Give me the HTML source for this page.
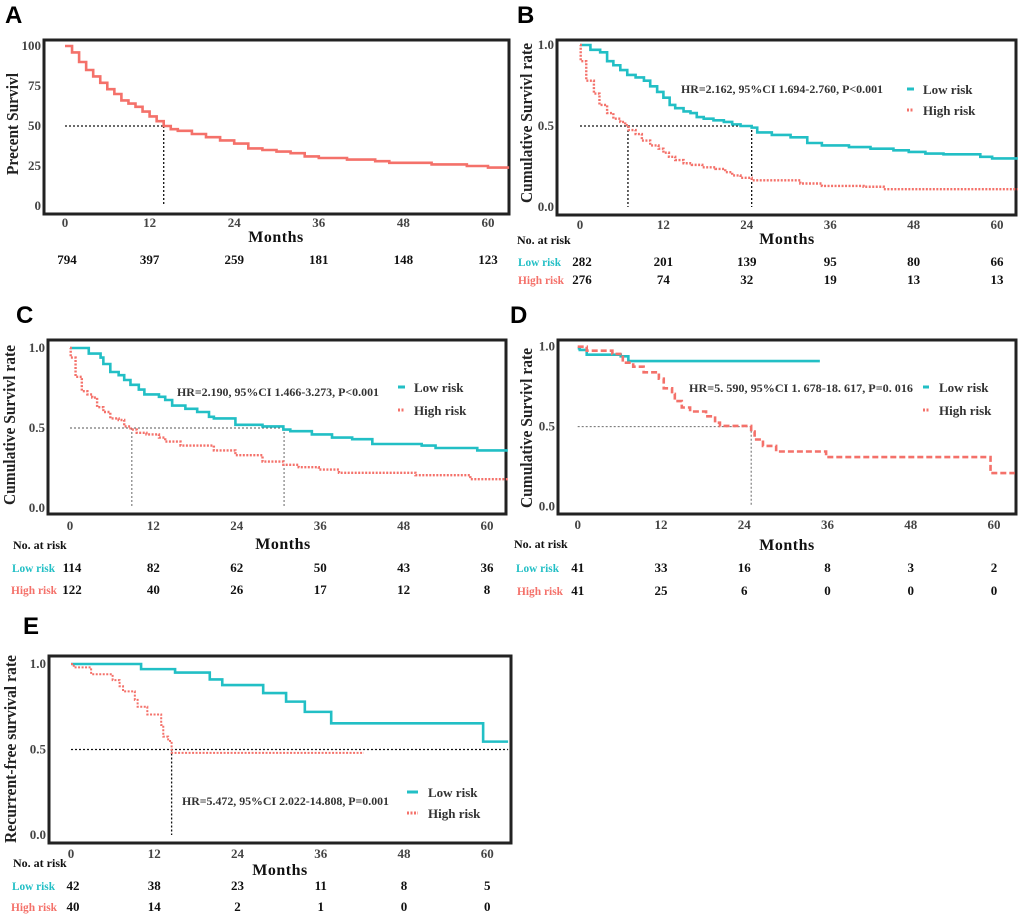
<!DOCTYPE html>
<html><head><meta charset="utf-8"><style>
html,body{margin:0;padding:0;background:#fff;}
svg{display:block;font-family:"Liberation Serif",serif;}
.pl{font-family:"Liberation Sans",sans-serif;font-weight:bold;font-size:24px;}
</style></head><body>
<svg id="fig" width="1020" height="916" viewBox="0 0 1020 916"></svg>
<script>
const months=[0,12,24,36,48,60];
// Panel A
const aT=[0,1,2,3,4,5,6,7,8,9,10,11,12,13,14,15,16,18,20,22,24,26,28,30,32,34,36,40,44,46,52,57,60];
const aV=[100,96,90,85,81,77,73,70,66,64,62,59,56,53,50,48,47,45,43,41,39,36,35,34,33,31,30,29,28,27,26,25,24];
const aRisk=[794,397,259,181,148,123];
// Panel B
const bLowT=[0,1.5,2.9,3.9,4.8,5.8,6.8,8,9.2,10.1,11.1,12,12.9,13.7,14.9,15.9,16.8,17.8,19.2,20.7,21.9,23.1,24.7,25.5,27.6,30.3,32.7,34.8,38.7,41.8,45.1,47.3,49.7,52.3,57.6,59.3];
const bLowV=[1,0.97,0.955,0.9,0.875,0.845,0.815,0.8,0.78,0.745,0.71,0.675,0.63,0.61,0.59,0.58,0.555,0.545,0.535,0.525,0.51,0.5,0.49,0.46,0.445,0.43,0.395,0.38,0.37,0.36,0.35,0.34,0.33,0.325,0.31,0.3];
const bHighT=[0,0.1,0.9,2,2.8,3.9,4.8,5.8,6.5,7,8,8.9,10.1,11.3,12,12.8,13.7,14.9,16.1,17.6,19.5,20.9,21.9,23.1,24.7,31.7,34.8,40.8,43.7];
const bHighV=[1,0.9,0.78,0.7,0.63,0.58,0.545,0.525,0.505,0.475,0.45,0.41,0.38,0.36,0.335,0.31,0.29,0.27,0.26,0.245,0.235,0.215,0.195,0.18,0.165,0.145,0.13,0.125,0.11];
const bLowRisk=[282,201,139,95,80,66];
const bHighRisk=[276,74,32,19,13,13];
// Panel C
const cLowT=[0,2.7,4.4,4.8,5.8,7,7.8,8.7,9.9,10.7,12.8,13.7,14.7,16.6,18.3,20,20.7,23.8,27.7,30.7,31.7,34.8,37.7,40.6,43.5,50.6,52.6,58.6];
const cLowV=[1,0.965,0.94,0.9,0.85,0.83,0.8,0.77,0.74,0.71,0.695,0.675,0.64,0.62,0.6,0.57,0.56,0.52,0.51,0.49,0.48,0.46,0.44,0.43,0.40,0.39,0.375,0.36];
const cHighT=[0,0.1,0.8,1.7,2.5,3.2,3.9,4.8,5.8,7,7.8,8.7,9.6,11,12.8,13.7,15.9,20.7,23.8,27.7,30.7,32.9,35.8,38.7,49.7,57.6];
const cHighV=[1,0.94,0.82,0.73,0.71,0.69,0.63,0.6,0.56,0.55,0.51,0.49,0.47,0.46,0.44,0.415,0.39,0.36,0.33,0.29,0.27,0.255,0.24,0.22,0.205,0.18];
const cLowRisk=[114,82,62,50,43,36];
const cHighRisk=[122,40,26,17,12,8];
// Panel D
const dLowT=[0,0.3,1.3,6.2,7.3];
const dLowV=[0.99,0.98,0.95,0.94,0.91];
const dHighT=[0,1.3,5,6.5,8,9.5,11.7,12.4,13.6,14,15,16.2,18.5,19.8,20.5,25,25.5,26.7,28.6,35.8,59.5];
const dHighV=[1,0.975,0.955,0.9,0.875,0.84,0.8,0.74,0.705,0.66,0.62,0.595,0.565,0.525,0.505,0.47,0.42,0.38,0.345,0.31,0.21];
const dLowRisk=[41,33,16,8,3,2];
const dHighRisk=[41,25,6,0,0,0];
// Panel E
const eLowT=[0,10.1,15,20,21.8,27.7,31,33.7,37.5,59.4];
const eLowV=[1,0.97,0.95,0.91,0.877,0.83,0.78,0.72,0.653,0.546];
const eHighT=[0,0.4,2.9,6,7,7.5,9.2,9.6,11,13,13.3,14,14.5];
const eHighV=[1,0.98,0.94,0.906,0.87,0.84,0.79,0.75,0.705,0.643,0.575,0.55,0.48];
const eLowRisk=[42,38,23,11,8,5];
const eHighRisk=[40,14,2,1,0,0];

const TEAL="#22bfc5", RED="#f4716a";
const svg=document.getElementById('fig');
const NS="http://www.w3.org/2000/svg";
function mk(tag,attrs,parent,text){const e=document.createElementNS(NS,tag);for(const k in attrs)e.setAttribute(k,attrs[k]);if(text!==undefined)e.textContent=text;(parent||svg).appendChild(e);return e;}

function panel(c){
  const g=mk('g',{});
  
  
  const X=t=>c.x0+(c.x60-c.x0)*t/60;
  const Y=v=>c.y0-(c.y0-c.y1)*(v-c.vmin)/(c.vmax-c.vmin);
  const lab=mk('text',{x:c.lx,y:c.ly,class:'pl'},g,c.id);
  
  
  const box=mk('rect',{x:c.bx,y:c.by,width:c.bw,height:c.bh,fill:'none',stroke:'#222','stroke-width':3},g);
  
  
  c.yt.forEach((v,i)=>{
    const t=mk('text',{x:c.bx-3,y:Y(v)+4,'text-anchor':'end','font-size':13,fill:'#444','font-weight':'bold'},g,c.ytl[i]);
    
    
  });
  months.forEach(m=>{
    const t=mk('text',{x:X(m),y:c.xty,'text-anchor':'middle','font-size':13,fill:'#444','font-weight':'bold'},g,String(m));
    
    
  });
  const xt=mk('text',{x:c.mx,y:c.my,'text-anchor':'middle','font-size':16,'font-weight':'bold',fill:'#111','letter-spacing':'0.5'},g,'Months');
  
  
  const yt=mk('text',{x:0,y:0,'text-anchor':'middle','font-size':17,'font-weight':'bold',fill:'#222',textLength:c.ytlen,lengthAdjust:'spacingAndGlyphs',transform:`translate(${c.ytx},${c.yty}) rotate(-90)`},g,c.ytitle);
  
  
  c.med.forEach(md=>{
    const l1=mk('path',{d:`M${X(0)},${Y(0.5*(c.vmax))}H${X(md.h)}`,stroke:md.col||'#111','stroke-width':md.w||1.3,'stroke-dasharray':'2,2',fill:'none'},g);
    
    
    if(md.v!==undefined){
      const l2=mk('path',{d:`M${X(md.v)},${Y(0.5*c.vmax)}V${Y(c.vmin)}`,stroke:md.col||'#111','stroke-width':md.w||1.3,'stroke-dasharray':'2,2',fill:'none'},g);
      
      
    }
  });
  c.series.forEach(s=>{
    let d=`M${X(s.t[0])},${Y(s.v[0])}`;
    for(let i=1;i<s.t.length;i++){d+=`H${X(s.t[i])}V${Y(s.v[i])}`;}
    d+=`H${X(s.end)}`;
    const p=mk('path',{d:d,stroke:s.col,'stroke-width':s.w||2.6,fill:'none','stroke-dasharray':s.dash||'none'},g);
    
    
  });
  if(c.hr){const t=mk('text',{x:c.hr.x,y:c.hr.y,'font-size':12,'font-weight':'bold',fill:'#333',textLength:c.hr.len,lengthAdjust:'spacingAndGlyphs'},g,c.hr.s);
    
    }
  if(c.leg){
    c.leg.forEach(L=>{
      const lg=mk('g',{},g);
      
      
      mk('line',{x1:L.x1,x2:L.x2,y1:L.y,y2:L.y,stroke:L.col,'stroke-width':3,'stroke-dasharray':L.dash||'none'},lg);
      mk('text',{x:L.tx,y:L.y+5,'font-size':13,'font-weight':'bold',fill:'#333'},lg,L.label);
    });
  }
  if(c.noRisk){const t=mk('text',{x:c.noRisk.x,y:c.noRisk.y,'font-size':12,'font-weight':'bold',fill:'#111'},g,'No. at risk');
    
    }
  c.rows.forEach(r=>{
    if(r.label){const t=mk('text',{x:r.lx,y:r.y,'font-size':12,'font-weight':'bold',fill:r.col,textLength:r.len||45,lengthAdjust:'spacingAndGlyphs'},g,r.label);
      
      }
    r.vals.forEach((v,i)=>{
      const t=mk('text',{x:X(months[i])+(i===0?r.off0:0),y:r.y,'text-anchor':'middle','font-size':13,'font-weight':'bold',fill:'#111'},g,String(v));
      
      
    });
  });
}

panel({id:'A',lx:5,ly:23,bx:44,by:40,bw:465,bh:174,x0:65,x60:488,y0:206,y1:46,vmin:0,vmax:100,
  yt:[0,25,50,75,100],ytl:['0','25','50','75','100'],xty:227,mx:276,my:242,ytx:18,yty:124,ytlen:102,ytitle:'Precent Survivl',
  med:[{h:14,v:14}],
  series:[{t:aT,v:aV,end:63,col:RED,name:'survival-curve-all'}],
  rows:[{vals:aRisk,y:264,off0:2}]});

panel({id:'B',lx:517,ly:23,bx:557,by:40,bw:459,bh:175,x0:580,x60:997,y0:207,y1:45,vmin:0,vmax:1,
  yt:[0,0.5,1],ytl:['0.0','0.5','1.0'],xty:229,mx:787,my:244,ytx:532,yty:123,ytlen:160,ytitle:'Cumulative Survivl rate',
  med:[{h:24.7,v:6.9},{h:0,v:24.7}],
  series:[{t:bLowT,v:bLowV,end:63,col:TEAL,name:'curve-low-risk'},{t:bHighT,v:bHighV,end:63,col:RED,dash:'2,1.5',w:2.4,name:'curve-high-risk'}],
  hr:{x:681,y:93,s:'HR=2.162,  95%CI 1.694-2.760,  P<0.001',len:202},
  leg:[{key:'low',x1:907,x2:914,y:89,col:TEAL,tx:923,label:'Low risk'},{key:'high',x1:907,x2:914,y:110,col:RED,dash:'2,1.5',tx:923,label:'High risk'}],
  noRisk:{x:517,y:244},
  rows:[{label:'Low risk',lx:518,col:TEAL,vals:bLowRisk,y:266,off0:2,len:43},{label:'High risk',lx:518,col:RED,vals:bHighRisk,y:284,off0:2,len:46}]});

panel({id:'C',lx:16,ly:323,bx:48,by:340,bw:458,bh:174,x0:70,x60:487,y0:508,y1:348,vmin:0,vmax:1,
  yt:[0,0.5,1],ytl:['0.0','0.5','1.0'],xty:530,mx:283,my:549,ytx:15,yty:425,ytlen:160,ytitle:'Cumulative Survivl rate',
  med:[{h:30.8,v:8.9,col:'#555',w:0.9},{h:0,v:30.8,col:'#555',w:0.9}],
  series:[{t:cLowT,v:cLowV,end:63,col:TEAL,name:'curve-low-risk'},{t:cHighT,v:cHighV,end:63,col:RED,dash:'2,1.5',w:2.4,name:'curve-high-risk'}],
  hr:{x:177,y:396,s:'HR=2.190,  95%CI 1.466-3.273,  P<0.001',len:202},
  leg:[{key:'low',x1:398,x2:405,y:387,col:TEAL,tx:414,label:'Low risk'},{key:'high',x1:398,x2:405,y:410,col:RED,dash:'2,1.5',tx:414,label:'High risk'}],
  noRisk:{x:13,y:549},
  rows:[{label:'Low risk',lx:12,col:TEAL,vals:cLowRisk,y:572,off0:2,len:43},{label:'High risk',lx:11,col:RED,vals:cHighRisk,y:594,off0:2,len:46}]});

panel({id:'D',lx:510,ly:323,bx:558,by:340,bw:458,bh:174,x0:577.7,x60:994,y0:506.7,y1:346.7,vmin:0,vmax:1,
  yt:[0,0.5,1],ytl:['0.0','0.5','1.0'],xty:529,mx:787,my:550,ytx:532,yty:428,ytlen:160,ytitle:'Cumulative Survivl rate',
  med:[{h:25,v:25,col:'#555',w:0.9}],
  series:[{t:dLowT,v:dLowV,end:34.9,col:TEAL,name:'curve-low-risk'},{t:dHighT,v:dHighV,end:63,col:RED,dash:'6,3',w:2.6,name:'curve-high-risk'}],
  hr:{x:689,y:392,s:'HR=5. 590, 95%CI  1. 678-18. 617,  P=0. 016',len:224},
  leg:[{key:'low',x1:923,x2:929,y:387,col:TEAL,tx:939,label:'Low risk'},{key:'high',x1:923,x2:929,y:410,col:RED,dash:'2,1.5',tx:939,label:'High risk'}],
  noRisk:{x:514,y:548},
  rows:[{label:'Low risk',lx:516,col:TEAL,vals:dLowRisk,y:572,off0:0,len:43},{label:'High risk',lx:517,col:RED,vals:dHighRisk,y:595,off0:0,len:46}]});

panel({id:'E',lx:23,ly:634,bx:49,by:656,bw:462,bh:187,x0:71,x60:487.3,y0:835,y1:664,vmin:0,vmax:1,
  yt:[0,0.5,1],ytl:['0.0','0.5','1.0'],xty:858,mx:280,my:875,ytx:16,yty:749,ytlen:188,ytitle:'Recurrent-free survival rate',
  med:[{h:63,v:14.5}],
  series:[{t:eLowT,v:eLowV,end:63,col:TEAL,name:'curve-low-risk'},{t:eHighT,v:eHighV,end:42.2,col:RED,dash:'2,1.5',w:2,name:'curve-high-risk'}],
  hr:{x:182,y:805,s:'HR=5.472,  95%CI 2.022-14.808,  P=0.001',len:207},
  leg:[{key:'low',x1:407,x2:418,y:792,col:TEAL,tx:428,label:'Low risk'},{key:'high',x1:407,x2:418,y:813,col:RED,dash:'2,1.5',tx:428,label:'High risk'}],
  noRisk:{x:13,y:867},
  rows:[{label:'Low risk',lx:12,col:TEAL,vals:eLowRisk,y:890,off0:2,len:43},{label:'High risk',lx:11,col:RED,vals:eHighRisk,y:911,off0:2,len:46}]});
</script>
</body></html>
